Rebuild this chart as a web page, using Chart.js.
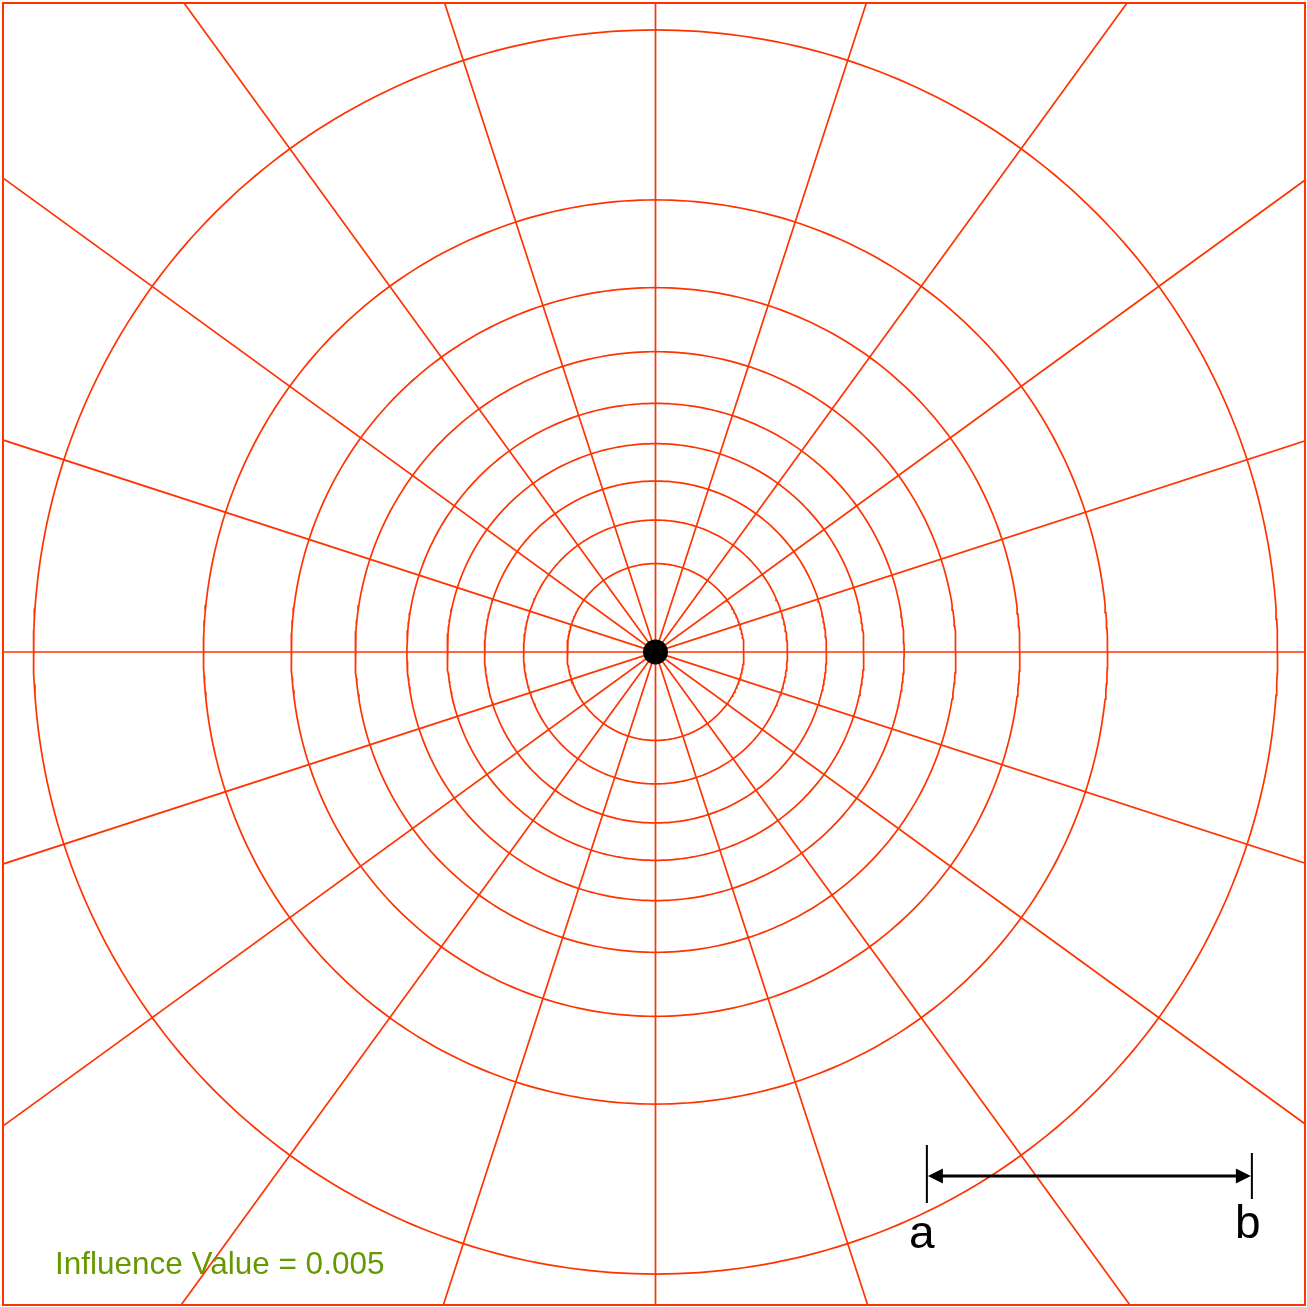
<!DOCTYPE html>
<html>
<head>
<meta charset="utf-8">
<script src="https://cdn.jsdelivr.net/npm/chart.js@4"></script>
<style>
  html, body { margin: 0; padding: 0; background: #fff; width: 1307px; height: 1307px; overflow: hidden; }
  canvas { display: block; }
</style>
</head>
<body>
<canvas id="myChart" width="1307" height="1307" style="width:1307px;height:1307px"></canvas>
<script>
// Newmark chart: circle radii as a ratio of the depth AB (= 1 unit)
const circleRatios = [0.272, 0.406, 0.526, 0.641, 0.765, 0.924, 1.121, 1.391, 1.914];
const rayAngles = [0, 18, 36, 54, 72, 90, 108, 126, 144, 162]; // each is a full diameter
const scaleBarEnds = [0.835, 1.835]; // a -> b, one unit apart
const scaleBarLabels = ["a", "b"];
const influenceValue = 0.005;

const RED = "#ff3300";
const PX_PER_UNIT = 325;

// circles sampled along their circumference
const circleSets = circleRatios.map((r) => {
    const pts = [];
    for (let d = 0; d <= 360; d += 1) {
        const t = (d * Math.PI) / 180;
        pts.push({ x: r * Math.cos(t), y: r * Math.sin(t) });
    }
    return {
        data: pts,
        showLine: true,
        borderColor: RED,
        borderWidth: 1.7,
        pointRadius: 0,
        order: 2,
    };
});

// rays run out past the frame and get clipped by the chart area
const rayLen = 4;
const raySets = rayAngles.map((deg) => {
    const t = (deg * Math.PI) / 180;
    return {
        data: [
            { x: -rayLen * Math.cos(t), y: -rayLen * Math.sin(t) },
            { x: rayLen * Math.cos(t), y: rayLen * Math.sin(t) },
        ],
        showLine: true,
        borderColor: RED,
        borderWidth: 1.7,
        pointRadius: 0,
        order: 2,
    };
});

const centerDot = {
    data: [{ x: 0, y: 0 }],
    pointRadius: 12.5,
    pointBackgroundColor: "#000",
    pointBorderWidth: 0,
    order: 0,
};

const extras = {
    id: "extras",
    afterDraw(chart) {
        const { ctx, chartArea, scales } = chart;
        const X = (v) => scales.x.getPixelForValue(v);
        const Y = (v) => scales.y.getPixelForValue(v);

        ctx.save();
        // frame
        ctx.strokeStyle = RED;
        ctx.lineWidth = 2;
        ctx.strokeRect(chartArea.left, chartArea.top, chartArea.right - chartArea.left, chartArea.bottom - chartArea.top);

        // scale bar a-b
        const barY = Y(-1.612);
        const xa = X(scaleBarEnds[0]);
        const xb = X(scaleBarEnds[1]);
        ctx.strokeStyle = "#000";
        ctx.fillStyle = "#000";
        ctx.lineWidth = 2;
        ctx.beginPath();
        ctx.moveTo(xa, barY - 31);
        ctx.lineTo(xa, barY + 27);
        ctx.moveTo(xb, barY - 23);
        ctx.lineTo(xb, barY + 23);
        ctx.stroke();

        ctx.lineWidth = 3;
        ctx.beginPath();
        ctx.moveTo(xa + 10, barY);
        ctx.lineTo(xb - 10, barY);
        ctx.stroke();

        ctx.beginPath();
        ctx.moveTo(xa + 1, barY);
        ctx.lineTo(xa + 16, barY - 7.5);
        ctx.lineTo(xa + 16, barY + 7.5);
        ctx.closePath();
        ctx.moveTo(xb - 1, barY);
        ctx.lineTo(xb - 16, barY - 7.5);
        ctx.lineTo(xb - 16, barY + 7.5);
        ctx.closePath();
        ctx.fill();

        ctx.font = '46px "Liberation Sans", Arial, sans-serif';
        ctx.textAlign = "center";
        ctx.textBaseline = "alphabetic";
        ctx.fillText(scaleBarLabels[0], xa - 5, barY + 72);
        ctx.fillText(scaleBarLabels[1], xb - 4, barY + 62);

        // influence value note
        ctx.font = '31.5px "Liberation Sans", Arial, sans-serif';
        ctx.textAlign = "left";
        ctx.fillStyle = "#669900";
        ctx.fillText("Influence Value = " + influenceValue, X(-1.848), Y(-1.914));
        ctx.restore();
    },
};

new Chart(document.getElementById("myChart"), {
    type: "scatter",
    data: { datasets: [centerDot, ...circleSets, ...raySets] },
    options: {
        responsive: false,
        animation: false,
        events: [],
        layout: { autoPadding: false, padding: { left: 3, top: 3, right: 2, bottom: 2 } },
        scales: {
            x: { type: "linear", display: false, min: (3 - 655.5) / PX_PER_UNIT, max: (1305 - 655.5) / PX_PER_UNIT },
            y: { type: "linear", display: false, min: (652 - 1305) / PX_PER_UNIT, max: (652 - 3) / PX_PER_UNIT },
        },
        plugins: {
            legend: { display: false },
            tooltip: { enabled: false },
            title: { display: false },
        },
    },
    plugins: [extras],
});
</script>
</body>
</html>
